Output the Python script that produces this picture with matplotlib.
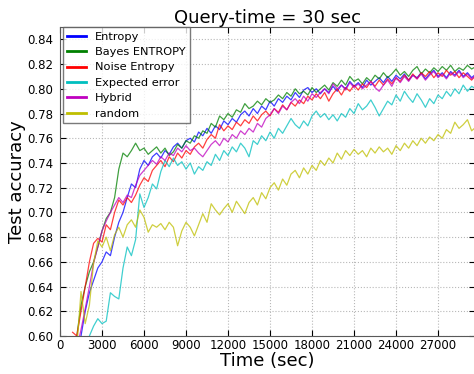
import numpy as np
import matplotlib
matplotlib.use("Agg")
import matplotlib.pyplot as plt

# query times (sec), one sample every 300 s
times = np.arange(900, 30000, 300)

bayes_entropy = [
    0.580, 0.600, 0.625, 0.640, 0.652, 0.660, 0.672, 0.685, 0.695, 0.700,
    0.712, 0.735, 0.748, 0.745, 0.750, 0.756, 0.750, 0.752, 0.747, 0.750,
    0.753, 0.748, 0.752, 0.746, 0.749, 0.755, 0.752, 0.758, 0.756, 0.762,
    0.760, 0.766, 0.764, 0.772, 0.769, 0.778, 0.775, 0.780, 0.777, 0.783,
    0.781, 0.788, 0.784, 0.786, 0.790, 0.787, 0.792, 0.789, 0.791, 0.795,
    0.792, 0.797, 0.794, 0.800, 0.796, 0.798, 0.795, 0.801, 0.797, 0.800,
    0.803, 0.799, 0.805, 0.802, 0.807, 0.803, 0.810, 0.806, 0.808, 0.804,
    0.809, 0.806, 0.811, 0.808, 0.813, 0.809, 0.812, 0.816, 0.811, 0.814,
    0.810, 0.815, 0.818, 0.812, 0.816, 0.813, 0.817, 0.814, 0.818, 0.815,
    0.819, 0.814, 0.817, 0.815, 0.819, 0.816, 0.818]

entropy = [
    0.570, 0.585, 0.600, 0.620, 0.635, 0.645, 0.655, 0.660, 0.668, 0.665,
    0.680, 0.692, 0.700, 0.712, 0.723, 0.720, 0.735, 0.742, 0.738, 0.745,
    0.748, 0.744, 0.750, 0.747, 0.753, 0.756, 0.752, 0.758, 0.760, 0.757,
    0.765, 0.762, 0.768, 0.764, 0.770, 0.767, 0.774, 0.771, 0.776, 0.773,
    0.779, 0.782, 0.778, 0.784, 0.780, 0.786, 0.783, 0.790, 0.786, 0.792,
    0.789, 0.794, 0.791, 0.797, 0.793, 0.799, 0.801, 0.797, 0.800, 0.796,
    0.800, 0.797, 0.802, 0.798, 0.803, 0.800, 0.806, 0.802, 0.805, 0.801,
    0.807, 0.803, 0.806, 0.809, 0.805, 0.810, 0.806, 0.811, 0.808, 0.812,
    0.807, 0.811, 0.809, 0.813, 0.808, 0.812, 0.815, 0.810, 0.813, 0.809,
    0.814, 0.811, 0.815, 0.810, 0.813, 0.809, 0.812]

noise_entropy = [
    0.603, 0.600, 0.620, 0.640, 0.660, 0.675, 0.679, 0.676, 0.690, 0.686,
    0.700, 0.710, 0.706, 0.712, 0.708, 0.714, 0.722, 0.728, 0.725, 0.734,
    0.738, 0.742, 0.737, 0.745, 0.741, 0.748, 0.744, 0.750, 0.747, 0.753,
    0.756, 0.752, 0.759, 0.763, 0.760, 0.771, 0.766, 0.770, 0.767, 0.773,
    0.770, 0.775, 0.772, 0.778, 0.774, 0.779, 0.782, 0.778, 0.784, 0.781,
    0.787, 0.783, 0.789, 0.786, 0.791, 0.788, 0.794, 0.791, 0.796, 0.792,
    0.797, 0.790, 0.796, 0.800, 0.795, 0.801, 0.798, 0.803, 0.799, 0.804,
    0.801, 0.806, 0.802, 0.807, 0.803, 0.808, 0.804, 0.809, 0.806, 0.811,
    0.807, 0.812, 0.808, 0.813, 0.810, 0.814, 0.809, 0.813, 0.810, 0.815,
    0.811, 0.814, 0.809, 0.813, 0.810, 0.807, 0.811]

expected_error = [
    0.550, 0.560, 0.570, 0.585, 0.600, 0.608, 0.614, 0.610, 0.612, 0.635,
    0.632, 0.630, 0.655, 0.672, 0.665, 0.678, 0.715, 0.704, 0.712, 0.723,
    0.719, 0.733, 0.742, 0.737, 0.744, 0.738, 0.741, 0.735, 0.740, 0.731,
    0.737, 0.734, 0.741, 0.738, 0.747, 0.742, 0.750, 0.746, 0.753, 0.749,
    0.756, 0.752, 0.745, 0.758, 0.755, 0.762, 0.758, 0.765, 0.760, 0.768,
    0.764, 0.770, 0.776, 0.771, 0.768, 0.774, 0.770, 0.778, 0.782, 0.777,
    0.780, 0.775, 0.779, 0.774, 0.780, 0.777, 0.784, 0.780, 0.788, 0.783,
    0.786, 0.791, 0.785, 0.778, 0.784, 0.790, 0.787, 0.795, 0.790, 0.798,
    0.793, 0.789, 0.796, 0.791, 0.785, 0.792, 0.788, 0.795, 0.792, 0.798,
    0.794, 0.800, 0.796, 0.803, 0.798, 0.802, 0.800]

hybrid = [
    0.570, 0.590, 0.605, 0.622, 0.640, 0.659, 0.672, 0.685, 0.693, 0.700,
    0.706, 0.712, 0.708, 0.714, 0.712, 0.722, 0.730, 0.734, 0.738, 0.742,
    0.739, 0.745, 0.742, 0.748, 0.746, 0.752, 0.749, 0.754, 0.750, 0.752,
    0.748, 0.745, 0.750, 0.755, 0.758, 0.754, 0.760, 0.757, 0.763, 0.760,
    0.766, 0.763, 0.768, 0.765, 0.772, 0.769, 0.776, 0.779, 0.784, 0.780,
    0.786, 0.783, 0.789, 0.792, 0.788, 0.794, 0.790, 0.796, 0.793, 0.797,
    0.800, 0.796, 0.804, 0.800, 0.803, 0.799, 0.805, 0.801, 0.804, 0.800,
    0.803, 0.806, 0.801, 0.798, 0.803, 0.807, 0.802, 0.809, 0.805, 0.810,
    0.806, 0.811, 0.808, 0.812, 0.807, 0.811, 0.814, 0.809, 0.812, 0.808,
    0.813, 0.810, 0.814, 0.809, 0.812, 0.808, 0.811]

random_q = [
    0.570, 0.590, 0.636, 0.610, 0.625, 0.659, 0.677, 0.672, 0.680, 0.669,
    0.682, 0.688, 0.680, 0.690, 0.694, 0.688, 0.702, 0.696, 0.684, 0.690,
    0.688, 0.691, 0.686, 0.692, 0.688, 0.673, 0.685, 0.692, 0.688, 0.681,
    0.690, 0.699, 0.692, 0.707, 0.702, 0.698, 0.703, 0.707, 0.700, 0.709,
    0.704, 0.699, 0.708, 0.712, 0.706, 0.716, 0.711, 0.720, 0.724, 0.718,
    0.727, 0.722, 0.731, 0.734, 0.728, 0.736, 0.731, 0.738, 0.734, 0.742,
    0.738, 0.744, 0.740, 0.748, 0.743, 0.750, 0.746, 0.751, 0.747, 0.750,
    0.745, 0.752, 0.748, 0.753, 0.749, 0.752, 0.747, 0.754, 0.750, 0.756,
    0.752, 0.758, 0.754, 0.760, 0.756, 0.761, 0.758, 0.763, 0.760, 0.767,
    0.764, 0.773, 0.768, 0.771, 0.775, 0.766, 0.769]

series = [("Entropy", entropy, (0, 0, 1)),
          ("Bayes ENTROPY", bayes_entropy, (0, 0.5, 0)),
          ("Noise Entropy", noise_entropy, (1, 0, 0)),
          ("Expected error", expected_error, (0, 0.75, 0.75)),
          ("Hybrid", hybrid, (0.75, 0, 0.75)),
          ("random", random_q, (0.75, 0.75, 0))]

xticks = [0, 3000, 6000, 9000, 12000, 15000, 18000, 21000, 24000, 27000]
yticks = [0.60, 0.62, 0.64, 0.66, 0.68, 0.70, 0.72, 0.74, 0.76, 0.78, 0.80, 0.82, 0.84]

fig = plt.figure(figsize=(4.74, 3.74), dpi=100)
ax = fig.add_axes([60/474, 1 - 336/374, 415/474, 309/374])

for name, vals, col in series:
    ax.plot(times, vals, color=col, lw=0.9, alpha=0.75, label=name)

ax.set_xlim(0, 29640)
ax.set_ylim(0.60, 0.85)
ax.set_xticks(xticks)
ax.set_yticks(yticks)
ax.set_yticklabels(["%.2f" % v for v in yticks])
ax.tick_params(direction="in", top=True, right=True, labelsize=8.5, length=4)
ax.tick_params(axis="y", pad=5)
ax.tick_params(axis="x", pad=2)
ax.grid(True, linestyle=":", color="0.72", lw=0.8)
for s in ax.spines.values():
    s.set_color("0.35")

ax.set_title("Query-time = 30 sec", fontsize=13, pad=3)
ax.set_xlabel("Time (sec)", fontsize=13, labelpad=0)
ax.set_ylabel("Test accuracy", fontsize=13, labelpad=1)

leg = ax.legend(loc="upper left", fontsize=8.2, fancybox=False, borderaxespad=0.0,
                bbox_to_anchor=(0.007, 1.0),
                handlelength=1.6, labelspacing=0.48, borderpad=0.4, handletextpad=0.8)
leg.get_frame().set_edgecolor("0.35")
for h in leg.get_lines():
    h.set_linewidth(2)
    h.set_alpha(1)

fig.savefig("out.png", dpi=100)
